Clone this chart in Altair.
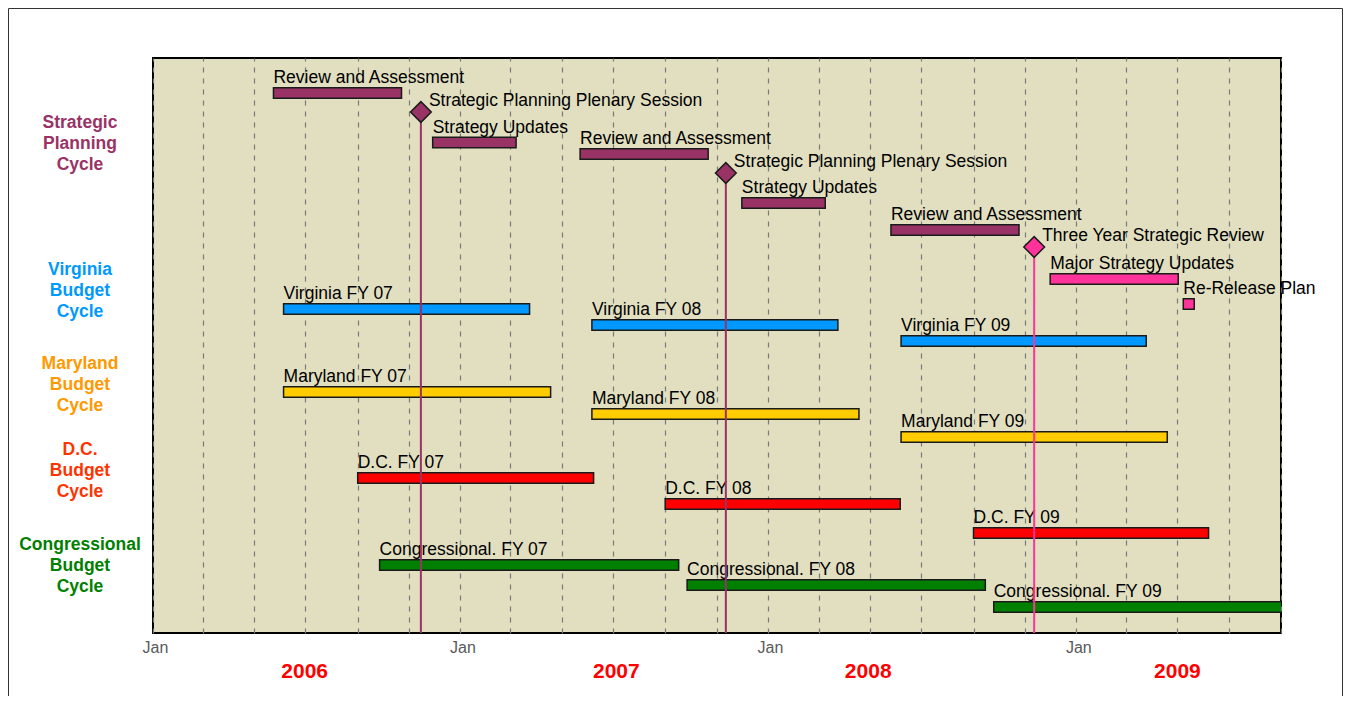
import altair as alt
import pandas as pd

# ---------------- data ----------------
task_names = [
    "Review and Assessment", "Strategy Updates", "Review and Assessment", "Strategy Updates",
    "Review and Assessment", "Major Strategy Updates", "Re-Release Plan",
    "Virginia FY 07", "Virginia FY 08", "Virginia FY 09",
    "Maryland FY 07", "Maryland FY 08", "Maryland FY 09",
    "D.C. FY 07", "D.C. FY 08", "D.C. FY 09",
    "Congressional. FY 07", "Congressional. FY 08", "Congressional. FY 09",
]
task_groups = [
    "Strategic", "Strategic", "Strategic", "Strategic", "Strategic", "Review", "Review",
    "Virginia", "Virginia", "Virginia",
    "Maryland", "Maryland", "Maryland",
    "D.C.", "D.C.", "D.C.",
    "Congressional", "Congressional", "Congressional",
]
task_starts = [
    "2006-05-24", "2006-11-29", "2007-05-23", "2007-12-01", "2008-05-26", "2008-12-01", "2009-05-08",
    "2006-06-05", "2007-06-06", "2008-06-07",
    "2006-06-05", "2007-06-06", "2008-06-07",
    "2006-09-01", "2007-09-01", "2008-09-01",
    "2006-09-27", "2007-09-27", "2008-09-25",
]
task_ends = [
    "2006-10-23", "2007-03-08", "2007-10-22", "2008-03-09", "2008-10-25", "2009-05-02", "2009-05-21",
    "2007-03-24", "2008-03-24", "2009-03-25",
    "2007-04-18", "2008-04-18", "2009-04-19",
    "2007-06-08", "2008-06-06", "2009-06-07",
    "2007-09-17", "2008-09-15", "2009-09-14",
]
task_rows = [
    3.5, 8.45, 9.6, 14.5, 17.2, 22.1, 24.6,
    25.1, 26.7, 28.3,
    33.4, 35.6, 37.9,
    42.0, 44.6, 47.5,
    50.7, 52.7, 54.9,
]

ms_names = ["Strategic Planning Plenary Session", "Strategic Planning Plenary Session",
            "Three Year Strategic Review"]
ms_dates = ["2006-11-15", "2007-11-12", "2008-11-12"]
ms_rows = [5.4, 11.5, 18.9]
ms_groups = ["Strategic", "Strategic", "Review"]

cycle_labels = ["Strategic\nPlanning\nCycle", "Virginia\nBudget\nCycle", "Maryland\nBudget\nCycle",
                "D.C.\nBudget\nCycle", "Congressional\nBudget\nCycle"]
cycle_groups = ["Strategic", "Virginia", "Maryland", "D.C.", "Congressional"]
cycle_rows = [6.53, 21.2, 30.63, 39.2, 48.7]   # row of the first line of each label

year_labels = ["2006", "2007", "2008", "2009"]
year_label_dates = ["2006-06-30", "2007-07-05", "2008-04-29", "2009-05-01"]

bar_groups = ["Strategic", "Review", "Virginia", "Maryland", "D.C.", "Congressional"]
bar_colors = ["#993366", "#FF3399", "#0099FF", "#FFCC00", "#FF0000", "#008000"]
cycle_colors = ["#993366", "#0099FF", "#FF9900", "#FF3300", "#008000"]

# ---------------- frames ----------------
tasks_df = pd.DataFrame({"name": task_names, "group": task_groups, "start": task_starts,
                         "end": task_ends, "row": task_rows})
ms_df = pd.DataFrame({"name": ms_names, "date": ms_dates, "row": ms_rows, "group": ms_groups})
cycles_df = pd.DataFrame({"label": cycle_labels, "group": cycle_groups, "row": cycle_rows})
years_df = pd.DataFrame({"label": year_labels, "date": year_label_dates})


def ms(s):
    return int(pd.Timestamp(s).value // 10**6)


X_DOMAIN = [ms("2006-01-01"), ms("2009-09-01")]
grid_ticks = [int(d.value // 10**6) for d in pd.date_range("2006-01-01", "2009-09-01", freq="2MS")]

FONT = "Liberation Sans"
W, H = 1128, 575
Y_MAX = 57.5

xscale = alt.Scale(type="utc", domain=X_DOMAIN, nice=False, padding=0)
yscale = alt.Scale(domain=[0, Y_MAX], reverse=True, nice=False, zero=False, padding=0)
x_axis = alt.Axis(values=grid_ticks, grid=True, gridDash=[5, 6], gridColor="#7a7a7a", gridWidth=1.2,
                  ticks=False, tickSize=0, domain=False,
                  labelExpr="utcmonth(datum.value) == 0 ? 'Jan' : ''",
                  labelColor="#5a5a5a", labelFontSize=16, labelFont=FONT, labelPadding=6,
                  labelOffset=2,
                  labelFlush=False, labelOverlap=False, labelBound=False, title=None)
bar_scale = alt.Scale(domain=bar_groups, range=bar_colors)

frame = alt.Chart(alt.Data(values=[{"f": 1}])).mark_rect(
    fill="transparent", stroke="#333333", strokeWidth=1
).encode(x=alt.value(-144.5), x2=alt.value(W + 61.5), y=alt.value(-49.5), y2=alt.value(H + 120))

bars = alt.Chart(tasks_df).mark_bar(
    size=10.5, stroke="#1a1a1a", strokeWidth=1.5, clip=True, orient="horizontal"
).encode(
    x=alt.X("start:T", scale=xscale, axis=x_axis),
    x2="end:T",
    y=alt.Y("row:Q", scale=yscale, axis=None),
    color=alt.Color("group:N", scale=bar_scale, legend=None),
)

task_text = alt.Chart(tasks_df).mark_text(
    align="left", baseline="alphabetic", dy=-10, fontSize=17.5, font=FONT, color="black"
).encode(
    x=alt.X("start:T", scale=xscale, axis=x_axis),
    y=alt.Y("row:Q", scale=yscale, axis=None),
    text="name:N",
)

rules = alt.Chart(ms_df).mark_rule(strokeWidth=2).encode(
    x=alt.X("date:T", scale=xscale, axis=x_axis),
    y=alt.Y("row:Q", scale=yscale, axis=None),
    y2=alt.datum(Y_MAX),
    color=alt.Color("group:N", scale=bar_scale, legend=None),
)

diamonds = alt.Chart(ms_df).mark_point(
    shape="diamond", filled=True, size=430, stroke="#1a1a1a", strokeWidth=1.5, opacity=1
).encode(
    x=alt.X("date:T", scale=xscale, axis=x_axis),
    y=alt.Y("row:Q", scale=yscale, axis=None),
    fill=alt.Fill("group:N", scale=bar_scale, legend=None),
)

ms_text = alt.Chart(ms_df).mark_text(
    align="left", baseline="alphabetic", dx=8, dy=-6, fontSize=17.5, font=FONT, color="black"
).encode(
    x=alt.X("date:T", scale=xscale, axis=x_axis),
    y=alt.Y("row:Q", scale=yscale, axis=None),
    text="name:N",
)

cycles = alt.Chart(cycles_df).mark_text(
    align="center", baseline="middle", lineBreak="\n", lineHeight=21,
    fontSize=17.5, fontWeight="bold", font=FONT
).encode(
    x=alt.value(-73),
    y=alt.Y("row:Q", scale=yscale, axis=None),
    text="label:N",
    color=alt.Color("group:N", scale=alt.Scale(domain=cycle_groups, range=cycle_colors), legend=None),
)

years = alt.Chart(years_df).mark_text(
    align="center", baseline="middle", fontSize=21, fontWeight="bold", font=FONT, color="#FF0000"
).encode(
    x=alt.X("date:T", scale=xscale, axis=x_axis),
    y=alt.value(H + 38.5),
    text="label:N",
)

chart = alt.layer(
    frame, bars, task_text, rules, diamonds, ms_text, cycles, years
).resolve_scale(
    color="independent", fill="independent"
).properties(
    width=W, height=H,
    autosize=alt.AutoSizeParams(type="none"),
    padding={"left": 145, "top": 50, "right": 62, "bottom": 63},
).configure(
    font=FONT
).configure_view(
    fill="#E1DFC0", stroke="black", strokeWidth=2
)

chart.save("out.html", embed_options={"renderer": "svg", "actions": False})
